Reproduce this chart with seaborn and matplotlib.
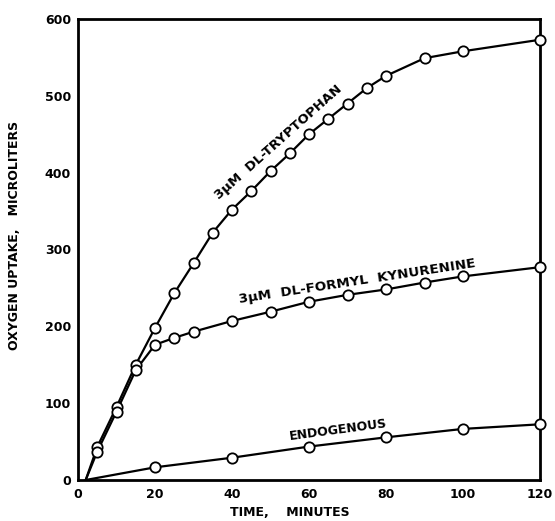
import matplotlib
matplotlib.use("Agg")
import matplotlib.pyplot as plt
import seaborn as sns
import pandas as pd

# ---- data ----
trp_x = [5, 10, 15, 20, 25, 30, 35, 40, 45, 50, 55, 60, 65, 70, 75, 80, 90, 100, 120]
trp_y = [43, 95, 150, 198, 243, 282, 322, 352, 376, 402, 425, 450, 470, 490, 510, 526, 549, 558, 573]

kyn_x = [5, 10, 15, 20, 25, 30, 40, 50, 60, 70, 80, 90, 100, 120]
kyn_y = [37, 89, 143, 176, 185, 193, 207, 219, 232, 241, 248, 257, 265, 277]

endo_x = [20, 40, 60, 80, 100, 120]
endo_y = [16.5, 29, 43.5, 55.5, 66.5, 72.5]

start_x = 2
start_y = 0

x_ticks = [0, 20, 40, 60, 80, 100, 120]
y_ticks = [0, 100, 200, 300, 400, 500, 600]

xlabel = "TIME,    MINUTES"
ylabel = "OXYGEN UPTAKE,   MICROLITERS"
lbl_trp = "3\u03bcM  DL-TRYPTOPHAN"
lbl_kyn = "3\u03bcM  DL-FORMYL  KYNURENINE"
lbl_endo = "ENDOGENOUS"

sns.set_style("white")
plt.rcParams['font.family'] = ['DejaVu Sans']
plt.rcParams['text.color'] = 'black'
plt.rcParams['xtick.color'] = 'black'
plt.rcParams['ytick.color'] = 'black'
plt.rcParams['axes.labelcolor'] = 'black'

fig = plt.figure(figsize=(5.55, 5.21), dpi=100)
W, H = 555, 521
ax = fig.add_axes([78 / W, 1 - 480 / H, (540 - 78) / W, (480 - 19) / H])

series = [
    (trp_x, trp_y),
    (kyn_x, kyn_y),
    (endo_x, endo_y),
]
for xs, ys in series:
    df_line = pd.DataFrame({"x": [start_x] + xs, "y": [start_y] + ys})
    sns.lineplot(data=df_line, x="x", y="y", color="black", linewidth=1.6,
                 estimator=None, sort=False, ax=ax, zorder=2)
for xs, ys in series:
    df_pts = pd.DataFrame({"x": xs, "y": ys})
    sns.scatterplot(data=df_pts, x="x", y="y", marker="o", s=55,
                    facecolor="white", edgecolor="black", linewidth=1.3,
                    ax=ax, zorder=3, clip_on=False)

ax.set_xlim(0, 120)
ax.set_ylim(0, 600)
ax.set_xticks(x_ticks)
ax.set_yticks(y_ticks)
ax.set_xticklabels([str(v) for v in x_ticks], fontweight="bold", fontsize=9, color="black")
ax.set_yticklabels([str(v) for v in y_ticks], fontweight="bold", fontsize=9, color="black")
ax.tick_params(axis="both", length=0)
ax.tick_params(axis="x", pad=6)
ax.tick_params(axis="y", pad=5)
for sp in ax.spines.values():
    sp.set_linewidth(2.0)
    sp.set_color("black")

ax.set_xlabel("")
ax.set_ylabel("")
fig.text(290 / W, 1 - 513 / H, xlabel, ha="center", va="center",
         fontsize=9, fontweight="bold", color="black")
fig.text(15 / W, 1 - 235 / H, ylabel, ha="center", va="center",
         fontsize=9, fontweight="bold", rotation=90, color="black")

ax.text(52.2, 439, lbl_trp, rotation=41.6, rotation_mode="anchor",
        ha="center", va="center", fontsize=9.5, fontweight="bold", color="black")
ax.text(72.5, 259, lbl_kyn, rotation=8.7, rotation_mode="anchor",
        ha="center", va="center", fontsize=9.7, fontweight="bold", color="black")
ax.text(67.5, 65, lbl_endo, rotation=7.6, rotation_mode="anchor",
        ha="center", va="center", fontsize=9, fontweight="bold", color="black")

fig.savefig("out.png", dpi=100)
